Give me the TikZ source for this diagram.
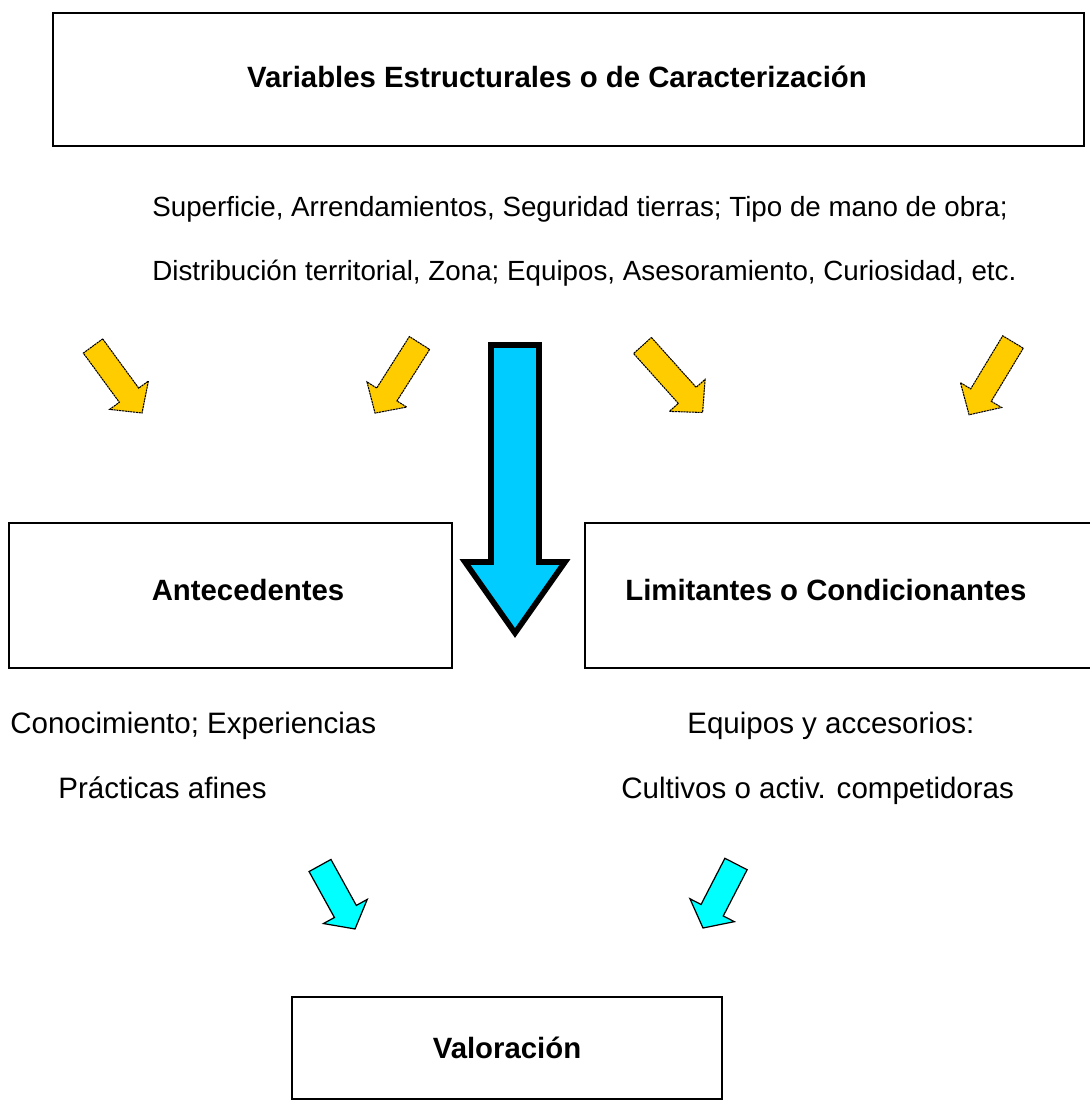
\documentclass[tikz,border=0pt]{standalone}
\usepackage{fontspec}
\setmainfont{Liberation Sans}
\usetikzlibrary{calc}
\definecolor{arrowyellow}{HTML}{FFCC00}
\definecolor{bigblue}{HTML}{00CCFF}
\definecolor{smallcyan}{HTML}{00FFFF}
\begin{document}
\begin{tikzpicture}[x=0.02cm,y=-0.02cm,
  boxnode/.style={draw=black, line width=1.1pt, inner sep=0pt},
  lbl/.style={font=\fontsize{15.8}{19}\selectfont, inner sep=0pt, anchor=base west},
  lblb/.style={font=\fontsize{16.8}{20}\selectfont, inner sep=0pt, anchor=base west},
  ttl/.style={font=\fontsize{16.7}{20}\selectfont\bfseries, inner sep=0pt, anchor=base},
  yarrow/.style={fill=arrowyellow, draw=black, line width=0.6pt, dash pattern=on 1.2pt off 0.4pt},
  carrow/.style={fill=smallcyan, draw=black, line width=0.7pt},
  pics/blockarr/.style n args={4}{code={%
    \path[pic actions] (0,-#2) -- (#1-#4,-#2) -- (#1-#4,-#3) -- (#1,0) -- (#1-#4,#3) -- (#1-#4,#2) -- (0,#2) -- cycle;}}
]
\useasboundingbox (0,0) rectangle (1089,1104);
\fill[white] (0,0) rectangle (1089,1104);

% boxes
\node[boxnode, minimum width=1031*0.02cm, minimum height=133*0.02cm] (top) at (568.5,79.5) {};
\node[ttl] (toptxt) at (557,88) {Variables Estructurales o de Caracterización};

\node[boxnode, minimum width=443*0.02cm, minimum height=145*0.02cm] (ante) at (230.5,595.5) {};
\node[ttl] (antetxt) at (248,600) {Antecedentes};

\node[boxnode, minimum width=510*0.02cm, minimum height=145*0.02cm] (limi) at (840,595.5) {};
\node[ttl, anchor=base west] (limitxt) at (625,600) {Limitantes o Condicionantes};

\node[boxnode, minimum width=430*0.02cm, minimum height=102*0.02cm] (valo) at (507,1048) {};
\node[ttl] (valotxt) at (507,1058) {Valoración};

% texts
\node[lbl] (t1) at (152,217) {Superficie, Arrendamientos, Seguridad tierras; Tipo de mano de obra;};
\node[lbl] (t2) at (152,281) {Distribución territorial, Zona; Equipos, Asesoramiento, Curiosidad, etc.};
\node[lblb] (t3) at (10,733) {Conocimiento; Experiencias};
\node[lblb] (t4) at (58,798) {Prácticas afines};
\node[lblb] (t5) at (687,733) {Equipos y accesorios:};
\node[lblb] (t6) at (621,798) {Cultivos o activ. competidoras};

% big blue arrow
\draw[line width=3.2pt, fill=bigblue, miter limit=10]
  (491,345) -- (539,345) -- (539,562) -- (565,562) -- (515,633) -- (465,562) -- (491,562) -- cycle;

% yellow arrows
\pic[yarrow, rotate=-53.8] at (93,346) {blockarr={83}{12}{24}{22}};
\pic[yarrow, rotate=-122.4] at (419.5,343) {blockarr={83}{12}{23.5}{22}};
\pic[yarrow, rotate=-48.1] at (642.5,345.5) {blockarr={90}{12}{24}{23}};
\pic[yarrow, rotate=-121.1] at (1013,342) {blockarr={85}{12}{24}{23}};

% cyan arrows
\pic[carrow, rotate=-61.1] at (320,865.5) {blockarr={72.5}{12.5}{25}{20}};
\pic[carrow, rotate=-117.3] at (736,864) {blockarr={72}{12.5}{25}{20}};
\end{tikzpicture}
\end{document}
